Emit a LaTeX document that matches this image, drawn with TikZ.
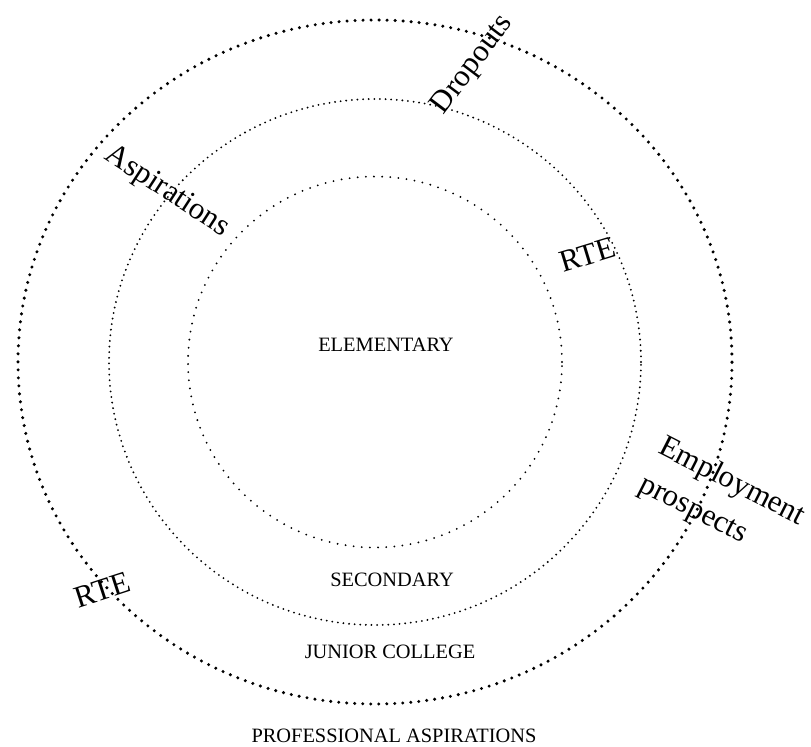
\documentclass[tikz,border=0pt]{standalone}
\usepackage{fontspec}
\setmainfont{Liberation Serif}

\tikzset{
  outerring/.style={line width=2.4pt,line cap=round,dash pattern=on 0pt off 5.7pt},
  midring/.style={line width=1.45pt,line cap=round,dash pattern=on 0pt off 4pt},
  innerring/.style={line width=1.45pt,line cap=round,dash pattern=on 0pt off 5.8pt},
  levellabel/.style={inner sep=0pt,font=\fontsize{14.5}{17}\selectfont},
  factorlabel/.style={inner sep=0pt,align=left,font=\fontsize{22}{30}\selectfont}
}

\begin{document}
\begin{tikzpicture}[x=0.025cm,y=0.025cm]
\useasboundingbox (0,0) rectangle (811,746);

\draw[outerring] (375,384) ellipse (357 and 342);
\draw[midring] (375,384) ellipse (266 and 263);
\draw[innerring] (375,384) ellipse (187 and 185.5);

\node[levellabel] (elem) at (386,401) {ELEMENTARY};
\node[levellabel] (second) at (392,166) {SECONDARY};
\node[levellabel] (junior) at (390,94) {JUNIOR COLLEGE};
\node[levellabel] (prof) at (394,10) {PROFESSIONAL ASPIRATIONS};

\node[factorlabel,rotate=53] (drop) at (473,681) {Dropouts};
\node[factorlabel,rotate=-33] (aspir) at (167,554) {Aspirations};
\node[factorlabel,rotate=17] (rteright) at (588,491) {RTE};
\node[factorlabel,rotate=18] (rteleft) at (102,156) {RTE};
\node[factorlabel,rotate=-27] (employ) at (722,245) {Employment\\prospects};
\end{tikzpicture}
\end{document}
